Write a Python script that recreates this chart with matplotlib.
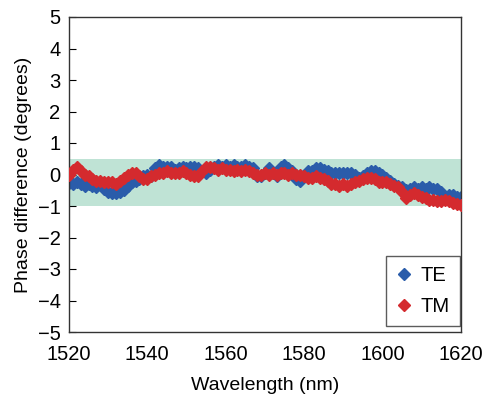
import numpy as np
import matplotlib
matplotlib.use("Agg")
import matplotlib.pyplot as plt

plt.rcParams["font.family"] = ["Liberation Sans", "DejaVu Sans"]

wavelength = np.arange(1520, 1621, 1)

te_phase = [
    -0.28, -0.30, -0.25, -0.30, -0.35, -0.30, -0.35, -0.40, -0.30, -0.45,
    -0.55, -0.60, -0.60, -0.55, -0.50, -0.35, -0.25, -0.20, -0.15, -0.05,
    0.00, -0.05, 0.20, 0.30, 0.25, 0.25, 0.25, 0.15, 0.20, 0.25,
    0.20, 0.25, 0.25, 0.20, 0.10, 0.05, 0.15, 0.25, 0.30, 0.25,
    0.30, 0.25, 0.30, 0.25, 0.25, 0.30, 0.25, 0.20, -0.05, -0.05,
    0.05, 0.20, 0.05, -0.05, 0.25, 0.30, 0.20, 0.10, -0.15, -0.20,
    -0.05, 0.10, 0.10, 0.20, 0.20, 0.15, 0.10, 0.05, 0.05, 0.05,
    0.05, 0.05, 0.05, 0.00, -0.10, -0.05, 0.05, 0.10, 0.10, 0.05,
    0.00, -0.10, -0.20, -0.30, -0.35, -0.40, -0.50, -0.45, -0.40, -0.45,
    -0.40, -0.45, -0.40, -0.45, -0.45, -0.55, -0.70, -0.65, -0.65, -0.70,
    -0.70,
]

tm_phase = [
    0.00, 0.15, 0.25, 0.10, 0.00, -0.05, -0.15, -0.20, -0.20, -0.25,
    -0.25, -0.25, -0.30, -0.20, -0.10, 0.00, 0.05, 0.05, -0.05, -0.15,
    -0.15, -0.05, 0.00, 0.05, 0.05, 0.10, 0.05, 0.05, 0.05, 0.10,
    0.05, 0.00, -0.05, -0.05, 0.10, 0.25, 0.25, 0.20, 0.15, 0.20,
    0.15, 0.15, 0.10, 0.15, 0.10, 0.15, 0.10, 0.05, 0.00, 0.00,
    0.05, 0.00, 0.05, 0.00, 0.05, 0.05, 0.00, 0.05, 0.00, 0.00,
    -0.05, -0.10, -0.10, -0.05, -0.10, -0.15, -0.20, -0.30, -0.30, -0.35,
    -0.30, -0.35, -0.30, -0.25, -0.20, -0.15, -0.10, -0.10, -0.15, -0.25,
    -0.25, -0.25, -0.30, -0.35, -0.40, -0.55, -0.75, -0.65, -0.60, -0.65,
    -0.70, -0.75, -0.80, -0.80, -0.85, -0.85, -0.80, -0.85, -0.90, -0.95,
    -0.97,
]

band_low, band_high = -1.0, 0.5

fig = plt.figure(figsize=(4.82, 4.0), dpi=100)
ax = fig.add_axes([0.143, 0.17, 0.813, 0.7875])

ax.axhspan(band_low, band_high, color="#bfe3d5", lw=0, zorder=0)
ax.plot(wavelength, te_phase, ls="none", marker="D", ms=6,
        color="#2a5caa", label="TE", zorder=2)
ax.plot(wavelength, tm_phase, ls="none", marker="D", ms=6,
        color="#d42a2e", label="TM", zorder=3)

ax.set_xlim(1520, 1620)
ax.set_ylim(-5, 5)
ax.set_xticks(np.arange(1520, 1621, 20))
ax.set_yticks(np.arange(-5, 6, 1))
ax.tick_params(axis="x", length=0, labelsize=14.5, pad=9)
ax.tick_params(axis="y", direction="in", length=5, labelsize=14.5, pad=6)
for s in ax.spines.values():
    s.set_color("#333333")
    s.set_linewidth(1.0)

ax.set_xlabel("Wavelength (nm)", fontsize=14, labelpad=10)
ax.set_ylabel("Phase difference (degrees)", fontsize=14, labelpad=4)

leg = ax.legend(loc="lower right", bbox_to_anchor=(0.997, 0.018),
                fontsize=14.5, frameon=True, fancybox=False,
                handlelength=0.8, handletextpad=0.4, borderpad=0.5,
                labelspacing=0.6, borderaxespad=0.0)
leg.get_frame().set_edgecolor("#333333")
leg.get_frame().set_linewidth(1.0)

fig.savefig("out.png", dpi=100)
